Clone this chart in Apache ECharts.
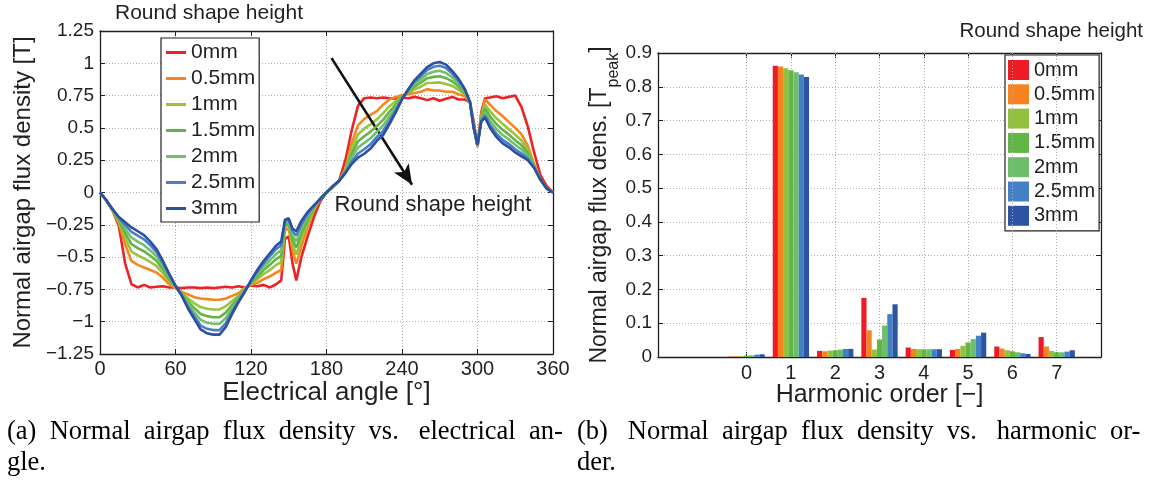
<!DOCTYPE html>
<html><head><meta charset="utf-8">
<script src="https://cdn.jsdelivr.net/npm/echarts@6/dist/echarts.min.js"></script>
<style>html,body{margin:0;padding:0;background:#fff}#c{width:1152px;height:484px}</style>
</head><body><div id="c"></div>
<script>
// ---------- data ----------
const seriesNames = ['0mm','0.5mm','1mm','1.5mm','2mm','2.5mm','3mm'];
const angles = [0,5,10,15,20,25,30,35,40,45,50,55,60,65,70,75,80,85,90,95,100,105,110,115,120,125,130,135,140,144,147,150,153,156,160,165,170,175,180,185,190,195,200,205,210,215,220,225,230,235,240,245,250,255,260,265,270,275,280,285,290,294,297,300,303,306,310,315,320,325,330,335,340,345,350,355,360];
const flux0mm = [0,-0.06,-0.14,-0.26,-0.55,-0.71,-0.735,-0.715,-0.735,-0.73,-0.725,-0.735,-0.735,-0.74,-0.735,-0.735,-0.74,-0.735,-0.74,-0.735,-0.73,-0.735,-0.725,-0.735,-0.72,-0.725,-0.715,-0.735,-0.71,
 -0.68,-0.36,-0.34,-0.55,-0.68,
 -0.50,-0.34,-0.19,-0.07,0,0.04,0.09,0.25,0.48,0.67,0.73,0.735,0.73,0.735,0.73,0.725,0.735,0.73,0.74,0.73,0.715,0.73,0.71,0.725,0.74,0.72,0.72,
 0.70,0.55,0.36,0.62,0.73,
 0.735,0.745,0.73,0.74,0.75,0.66,0.51,0.31,0.135,0.05,0];
const flux05mm = [0,-0.06,-0.14,-0.24,-0.40,-0.53,-0.56,-0.58,-0.60,-0.62,-0.66,-0.71,-0.74,-0.77,-0.79,-0.81,-0.82,-0.825,-0.83,-0.83,-0.82,-0.80,-0.78,-0.74,-0.715,-0.70,-0.67,-0.65,-0.62,
 -0.60,-0.29,-0.28,-0.45,-0.55,
 -0.42,-0.27,-0.14,-0.05,0,0.04,0.09,0.18,0.38,0.52,0.57,0.60,0.63,0.68,0.72,0.74,0.755,0.76,0.77,0.78,0.80,0.79,0.79,0.78,0.78,0.76,0.745,
 0.70,0.52,0.35,0.60,0.72,
 0.68,0.63,0.59,0.545,0.50,0.45,0.36,0.22,0.10,0.03,0];
const flux1mm = [0,-0.06,-0.14,-0.225,-0.352,-0.457,-0.487,-0.51,-0.538,-0.57,-0.624,-0.688,-0.735,-0.78,-0.82,-0.858,-0.887,-0.90,-0.905,-0.905,-0.88,-0.84,-0.80,-0.75,-0.705,-0.672,-0.63,-0.60,-0.561,
 -0.538,-0.268,-0.258,-0.40,-0.48,
 -0.364,-0.236,-0.129,-0.05,0,0.043,0.09,0.172,0.335,0.45,0.494,0.527,0.566,0.614,0.667,0.706,0.745,0.771,0.798,0.819,0.848,0.849,0.852,0.839,0.825,0.794,0.76,
 0.70,0.515,0.355,0.586,0.68,
 0.63,0.574,0.531,0.49,0.447,0.402,0.329,0.212,0.10,0.03,0];
const flux15mm = [0,-0.06,-0.135,-0.215,-0.315,-0.40,-0.43,-0.455,-0.49,-0.53,-0.595,-0.67,-0.73,-0.785,-0.845,-0.895,-0.94,-0.957,-0.965,-0.965,-0.93,-0.87,-0.815,-0.755,-0.70,-0.65,-0.60,-0.56,-0.515,
 -0.49,-0.25,-0.24,-0.365,-0.425,
 -0.32,-0.21,-0.12,-0.05,0,0.045,0.09,0.165,0.30,0.395,0.435,0.47,0.515,0.562,0.625,0.68,0.738,0.78,0.82,0.85,0.885,0.895,0.90,0.885,0.86,0.82,0.772,
 0.70,0.51,0.36,0.575,0.65,
 0.59,0.53,0.485,0.448,0.405,0.365,0.305,0.205,0.10,0.03,0];
const flux2mm = [0,-0.06,-0.13,-0.205,-0.283,-0.35,-0.38,-0.408,-0.448,-0.496,-0.57,-0.655,-0.726,-0.79,-0.866,-0.927,-0.986,-1.008,-1.016,-1.016,-0.972,-0.897,-0.828,-0.76,-0.692,-0.631,-0.573,-0.526,-0.475,
 -0.448,-0.235,-0.225,-0.333,-0.378,
 -0.282,-0.187,-0.112,-0.05,0,0.047,0.09,0.159,0.27,0.348,0.384,0.42,0.47,0.518,0.589,0.657,0.731,0.788,0.839,0.877,0.917,0.935,0.942,0.925,0.89,0.843,0.783,
 0.70,0.505,0.364,0.565,0.623,
 0.556,0.492,0.445,0.41,0.369,0.333,0.284,0.199,0.10,0.03,0];
const flux25mm = [0,-0.06,-0.13,-0.195,-0.252,-0.304,-0.334,-0.362,-0.409,-0.463,-0.547,-0.64,-0.723,-0.796,-0.886,-0.958,-1.03,-1.055,-1.065,-1.065,-1.01,-0.922,-0.841,-0.766,-0.685,-0.613,-0.548,-0.493,-0.437,
 -0.409,-0.22,-0.21,-0.30,-0.333,
 -0.246,-0.166,-0.105,-0.05,0,0.049,0.09,0.154,0.24,0.302,0.335,0.374,0.43,0.476,0.555,0.636,0.725,0.795,0.857,0.902,0.948,0.973,0.981,0.963,0.919,0.864,0.793,
 0.70,0.502,0.367,0.556,0.598,
 0.523,0.456,0.407,0.375,0.335,0.302,0.264,0.194,0.10,0.03,0];
const flux3mm = [0,-0.06,-0.13,-0.19,-0.23,-0.27,-0.30,-0.33,-0.38,-0.44,-0.53,-0.63,-0.72,-0.80,-0.90,-0.98,-1.06,-1.09,-1.10,-1.10,-1.04,-0.94,-0.85,-0.77,-0.68,-0.60,-0.53,-0.47,-0.41,
 -0.38,-0.21,-0.20,-0.28,-0.30,
 -0.22,-0.15,-0.10,-0.05,0,0.05,0.09,0.15,0.22,0.27,0.30,0.34,0.40,0.445,0.53,0.62,0.72,0.80,0.87,0.92,0.97,1.00,1.01,0.99,0.94,0.88,0.80,
 0.70,0.50,0.37,0.55,0.58,
 0.50,0.43,0.38,0.35,0.31,0.28,0.25,0.19,0.10,0.03,0];
const fluxSeries = [flux0mm, flux05mm, flux1mm, flux15mm, flux2mm, flux25mm, flux3mm];

const harmonics = [0,1,2,3,4,5,6,7];
const harm0mm  = [0.001,0.862,0.018,0.175,0.028,0.021,0.031,0.059];
const harm05mm = [0.002,0.860,0.017,0.079,0.024,0.024,0.025,0.031];
const harm1mm  = [0.003,0.855,0.019,0.022,0.023,0.033,0.020,0.018];
const harm15mm = [0.004,0.849,0.020,0.052,0.023,0.043,0.017,0.014];
const harm2mm  = [0.005,0.843,0.022,0.093,0.023,0.053,0.014,0.014];
const harm25mm = [0.007,0.836,0.024,0.127,0.023,0.063,0.011,0.016];
const harm3mm  = [0.008,0.829,0.024,0.156,0.023,0.072,0.009,0.020];
const harmSeries = [harm0mm, harm05mm, harm1mm, harm15mm, harm2mm, harm25mm, harm3mm];

const angleTicks = [0,60,120,180,240,300,360];
const fluxTicks = [-1.25,-1,-0.75,-0.5,-0.25,0,0.25,0.5,0.75,1,1.25];
const harmTicks = [0,1,2,3,4,5,6,7];
const arrowFrom = [184, 1.04];
const arrowTo = [248, 0.06];

// ---------- styles ----------
const lineColors = ['#EC2227','#F6861F','#98C43E','#63B444','#74BF6B','#4A7FC3','#2C4FA1'];
const barColors  = ['#ED1C24','#F7821F','#93C13D','#63B646','#6DBE6A','#4380C5','#2D54A3'];
const FONT = '"Liberation Sans", Arial, Helvetica, sans-serif';
const SERIF = '"Liberation Serif", "Times New Roman", serif';
const TXT = '#231f20';
const gridLine = {show:true, lineStyle:{color:'#b0b0b0', type:[1,2], width:1}};
const axLine = {show:true, onZero:false, lineStyle:{color:'#231f20', width:1.3}};
const tickIn = {show:true, inside:true, length:5, lineStyle:{color:'#231f20', width:1}};
const fmtMinus = v => (v === 0 ? '0' : String(+v.toFixed(2)).replace('-', '\u2212'));

const chart = echarts.init(document.getElementById('c'), null, {renderer:'canvas'});

const series = [];
fluxSeries.forEach((vals, k) => {
  series.push({
    name: seriesNames[k], type:'line', xAxisIndex:0, yAxisIndex:0,
    data: angles.map((a,i) => [a, vals[i]]),
    symbol:'none', showSymbol:false, smooth:false,
    lineStyle:{color:lineColors[k], width:2.6}, itemStyle:{color:lineColors[k]},
    z: 2 + k, silent:true
  });
});
// arrow annotation
series.push({
  type:'line', xAxisIndex:0, yAxisIndex:0, data:[], silent:true,
  markLine:{
    silent:true, symbol:['none','arrow'], symbolSize:[13,20],
    lineStyle:{color:'#111', width:2.6, type:'solid'}, label:{show:false},
    data:[[{coord:arrowFrom},{coord:arrowTo}]]
  }, z: 20
});
// grid lines for harmonic chart at the tick values
series.push({
  type:'line', xAxisIndex:2, yAxisIndex:2, data:[], silent:true,
  markLine:{silent:true, symbol:['none','none'], label:{show:false},
    lineStyle:{color:'#b0b0b0', type:[1,2], width:1},
    data: harmTicks.map(h => ({xAxis:h}))}, z:1
});
const GROUP_FRAC = 0.82;
harmSeries.forEach((vals, k) => {
  series.push({
    name: 'bar:' + seriesNames[k], type:'custom', xAxisIndex:2, yAxisIndex:2,
    data: harmonics.map((h,i) => [h, vals[i]]),
    itemStyle:{color:barColors[k]}, silent:true, z:5,
    renderItem: (params, api) => {
      const unit = api.size([1,0])[0];
      const bw = unit * GROUP_FRAC / 7;
      const base = api.coord([api.value(0), 0]);
      const top = api.coord([api.value(0), api.value(1)]);
      return {type:'rect', shape:{x: base[0] + (k - 3.5) * bw, y: top[1], width: bw, height: base[1] - top[1]},
        style:{fill: barColors[k]}};
    }
  });
});

const option = {
  animation:false,
  textStyle:{fontFamily:FONT, color:TXT},
  grid:[
    {left:100, top:31, width:453, height:323},
    {left:658, top:53, width:443, height:304}
  ],
  xAxis:[
    {gridIndex:0, type:'value', min:0, max:360, interval:60, position:'bottom',
     axisLine:axLine, axisTick:tickIn, splitLine:gridLine,
     axisLabel:{fontSize:20, color:TXT, margin:5, fontFamily:FONT},
     name:'Electrical angle [°]', nameLocation:'middle', nameGap:26, nameMoveOverlap:false,
     nameTextStyle:{fontSize:26, color:TXT, fontFamily:FONT}},
    {gridIndex:0, type:'value', min:0, max:360, interval:60, position:'top',
     axisLine:axLine, axisTick:tickIn, splitLine:{show:false}, axisLabel:{show:false}},
    {gridIndex:1, type:'value', min:-2, max:8, interval:1, position:'bottom',
     axisLine:axLine, axisTick:Object.assign({}, tickIn, {customValues:harmTicks}), splitLine:{show:false},
     axisLabel:{fontSize:20, color:TXT, margin:6, fontFamily:FONT, customValues:harmTicks},
     name:'Harmonic order [\u2212]', nameLocation:'middle', nameGap:26, nameMoveOverlap:false,
     nameTextStyle:{fontSize:25, color:TXT, fontFamily:FONT}},
    {gridIndex:1, type:'value', min:-2, max:8, interval:1, position:'top',
     axisLine:axLine, axisTick:Object.assign({}, tickIn, {customValues:harmTicks}), splitLine:{show:false}, axisLabel:{show:false}}
  ],
  yAxis:[
    {gridIndex:0, type:'value', min:-1.25, max:1.25, interval:0.25, position:'left',
     axisLine:axLine, axisTick:tickIn, splitLine:gridLine,
     axisLabel:{fontSize:19, color:TXT, margin:6, formatter:fmtMinus, fontFamily:FONT},
     name:'Normal airgap flux density [T]', nameLocation:'middle', nameGap:65, nameRotate:90,
     nameTextStyle:{fontSize:24, color:TXT, fontFamily:FONT}},
    {gridIndex:0, type:'value', min:-1.25, max:1.25, interval:0.25, position:'right',
     axisLine:axLine, axisTick:tickIn, splitLine:{show:false}, axisLabel:{show:false}},
    {gridIndex:1, type:'value', min:0, max:0.9, interval:0.1, position:'left',
     axisLine:axLine, axisTick:tickIn, splitLine:gridLine,
     axisLabel:{fontSize:19, color:TXT, margin:6, formatter:v => (v===0?'0':String(+v.toFixed(1))), fontFamily:FONT},
     name:'{a|Normal airgap flux dens. [T}{b|peak}{a|]}', nameLocation:'middle', nameGap:36, nameRotate:90,
     nameTextStyle:{color:TXT, fontFamily:FONT, rich:{
       a:{fontSize:23, lineHeight:26, verticalAlign:'top', color:TXT, fontFamily:FONT},
       b:{fontSize:16, lineHeight:34, verticalAlign:'bottom', color:TXT, fontFamily:FONT}}}},
    {gridIndex:1, type:'value', min:0, max:0.9, interval:0.1, position:'right',
     axisLine:axLine, axisTick:tickIn, splitLine:{show:false}, axisLabel:{show:false}}
  ],
  legend:[
    {data:seriesNames, left:161, top:38, orient:'vertical', icon:'rect', itemWidth:20, itemHeight:3, itemGap:5,
     borderColor:'#231f20', borderWidth:1.2, padding:[4,4,3,5], backgroundColor:'#fff',
     textStyle:{fontSize:21, color:TXT, fontFamily:FONT}, selectedMode:false},
    {data:seriesNames.map(n => 'bar:' + n), left:1005, top:55, orient:'vertical', icon:'rect',
     itemWidth:21, itemHeight:20, itemGap:4.3, formatter: n => n.slice(4),
     borderColor:'#231f20', borderWidth:1.2, padding:[5,4,5,3], backgroundColor:'#fff',
     textStyle:{fontSize:20, color:TXT, fontFamily:FONT}, selectedMode:false}
  ],
  graphic:[
    {type:'text', left:115, top:3, style:{text:'Round shape height', fontSize:21, fill:TXT, fontFamily:FONT}},
    {type:'text', right:9, top:21, style:{text:'Round shape height', fontSize:20.5, fill:TXT, fontFamily:FONT}},
    {type:'text', x:433, y:205, style:{text:'Round shape height', fontSize:22, fill:TXT, fontFamily:FONT, align:'center', verticalAlign:'middle'}},
    {type:'text', left:7, top:419, style:{text:'(a)  Normal  airgap  flux  density  vs.   electrical  an-', fontSize:26.5, fill:'#000', fontFamily:SERIF}},
    {type:'text', left:7, top:450, style:{text:'gle.', fontSize:26.5, fill:'#000', fontFamily:SERIF}},
    {type:'text', left:577, top:419, style:{text:'(b)   Normal  airgap  flux  density  vs.   harmonic  or-', fontSize:26.5, fill:'#000', fontFamily:SERIF}},
    {type:'text', left:577, top:450, style:{text:'der.', fontSize:26.5, fill:'#000', fontFamily:SERIF}}
  ],
  series: series
};
chart.setOption(option);
</script>
</body></html>
